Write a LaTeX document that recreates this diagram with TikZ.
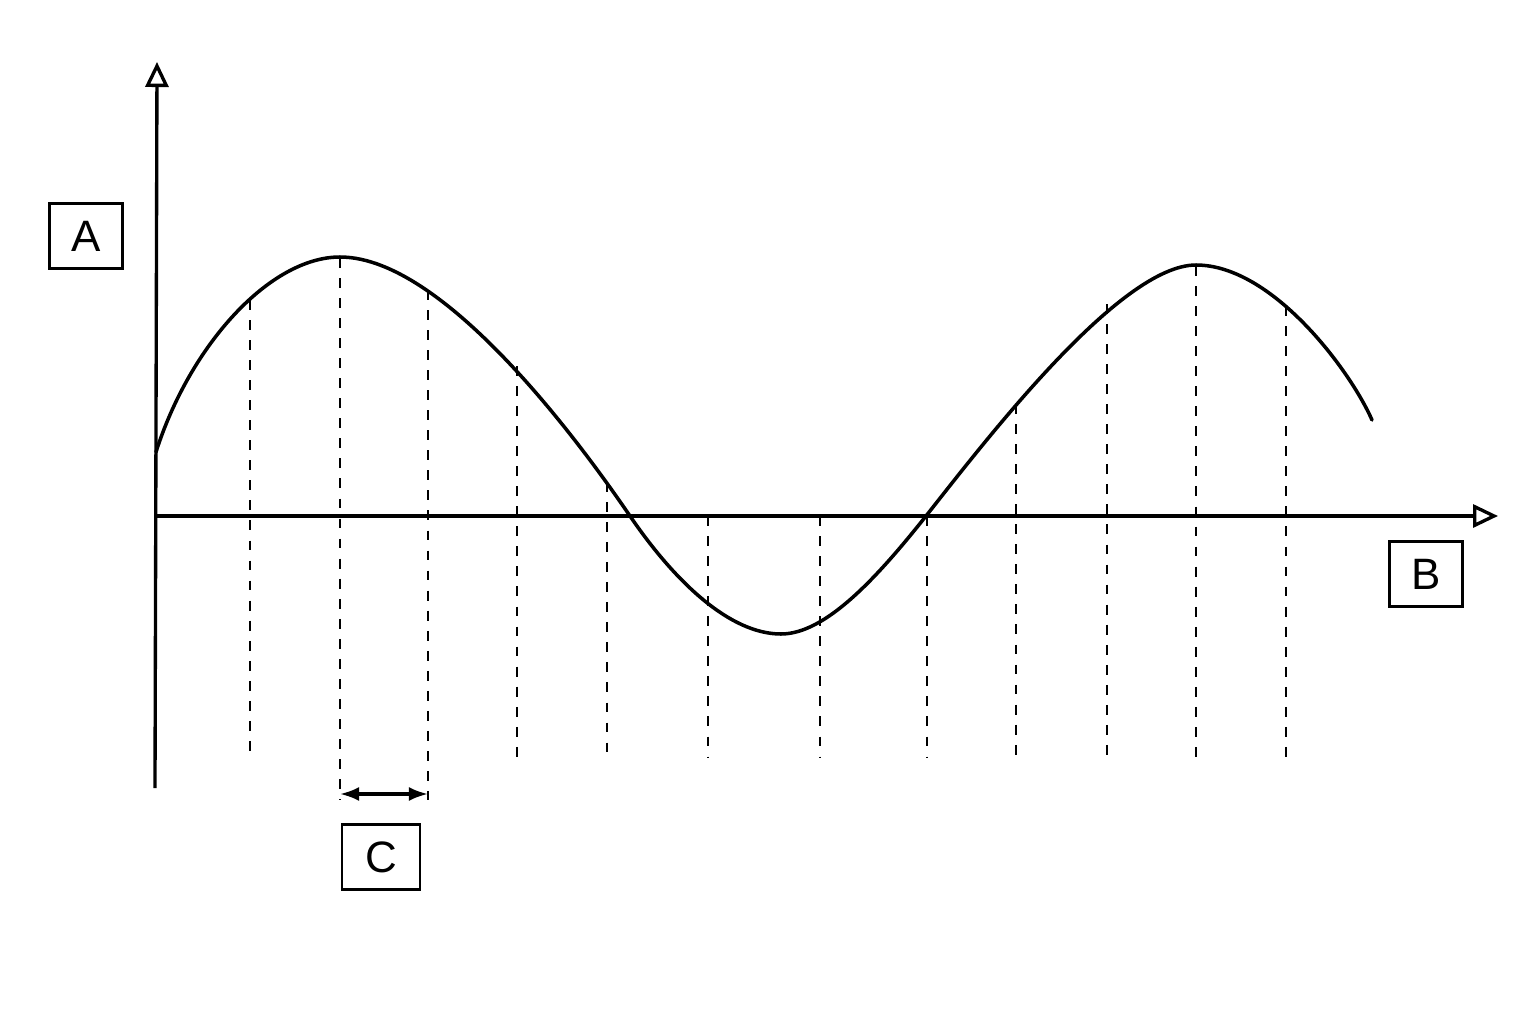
\documentclass[tikz,border=0pt]{standalone}
\usepackage{fontspec}
\setmainfont{Liberation Sans}
\usepackage{tikz}
\usetikzlibrary{positioning, arrows.meta}

\begin{document}
\begin{tikzpicture}[
    x=0.01cm, y=-0.01cm,
    label box/.style={rectangle, draw, line width=0.65pt, minimum width=0.73cm, minimum height=0.65cm, inner sep=0pt, font=\fontsize{12.5}{14}\selectfont},
    axis/.style={line width=0.95pt, -{Triangle[open, length=0.25cm, width=0.23cm]}},
    wave/.style={line width=1pt, line cap=round},
    guide/.style={line width=0.7pt, dash pattern=on 2.8pt off 2.9pt},
    span/.style={line width=0.9pt, {Latex[length=0.19cm, width=0.14cm]}-{Latex[length=0.19cm, width=0.14cm]}}
]
\useasboundingbox (0, 0) rectangle (1536, 1024);

\coordinate (origin) at (156, 516);
\coordinate (ytop) at (157, 62);
\coordinate (ybottom) at (155, 788);
\coordinate (xend) at (1498, 516);

\draw[axis] (ybottom) -- (ytop);
\draw[axis] (origin) -- (xend);

\node[label box] (A) at (86, 236) {A};
\node[label box] (B) at (1426, 574) {B};
\node[label box, minimum width=0.78cm] (C) at (381, 857) {C};

% wave: peak, zero, trough, zero, peak
\coordinate (w0) at (156, 452);
\coordinate (peak1) at (340, 257);
\coordinate (zero1) at (630, 516);
\coordinate (trough) at (781, 634);
\coordinate (zero2) at (926, 516);
\coordinate (peak2) at (1196, 265);
\coordinate (wend) at (1372, 420);
\draw[wave] (w0) .. controls (190, 345) and (270, 257) .. (peak1)
    .. controls (450, 257) and (595, 465) .. (zero1)
    .. controls (675, 582) and (730, 634) .. (trough)
    .. controls (825, 634) and (876, 579) .. (zero2)
    .. controls (986, 440) and (1120, 265) .. (peak2)
    .. controls (1272, 265) and (1350, 370) .. (wend);

\draw[guide] (250, 300) -- (250, 757);
\draw[guide] (340, 258) -- (340, 800);
\draw[guide] (428, 290) -- (428, 800);
\draw[guide] (517, 366) -- (517, 757);
\draw[guide] (607, 482) -- (607, 757);
\draw[guide] (708, 516) -- (708, 757);
\draw[guide] (820, 516) -- (820, 757);
\draw[guide] (927, 516) -- (927, 757);
\draw[guide] (1016, 404) -- (1016, 757);
\draw[guide] (1107, 304) -- (1107, 757);
\draw[guide] (1196, 266) -- (1196, 757);
\draw[guide] (1286, 306) -- (1286, 757);

\coordinate (span left) at (340, 794);
\coordinate (span right) at (428, 794);
\draw[span] (span left) -- (span right);

\end{tikzpicture}
\end{document}
